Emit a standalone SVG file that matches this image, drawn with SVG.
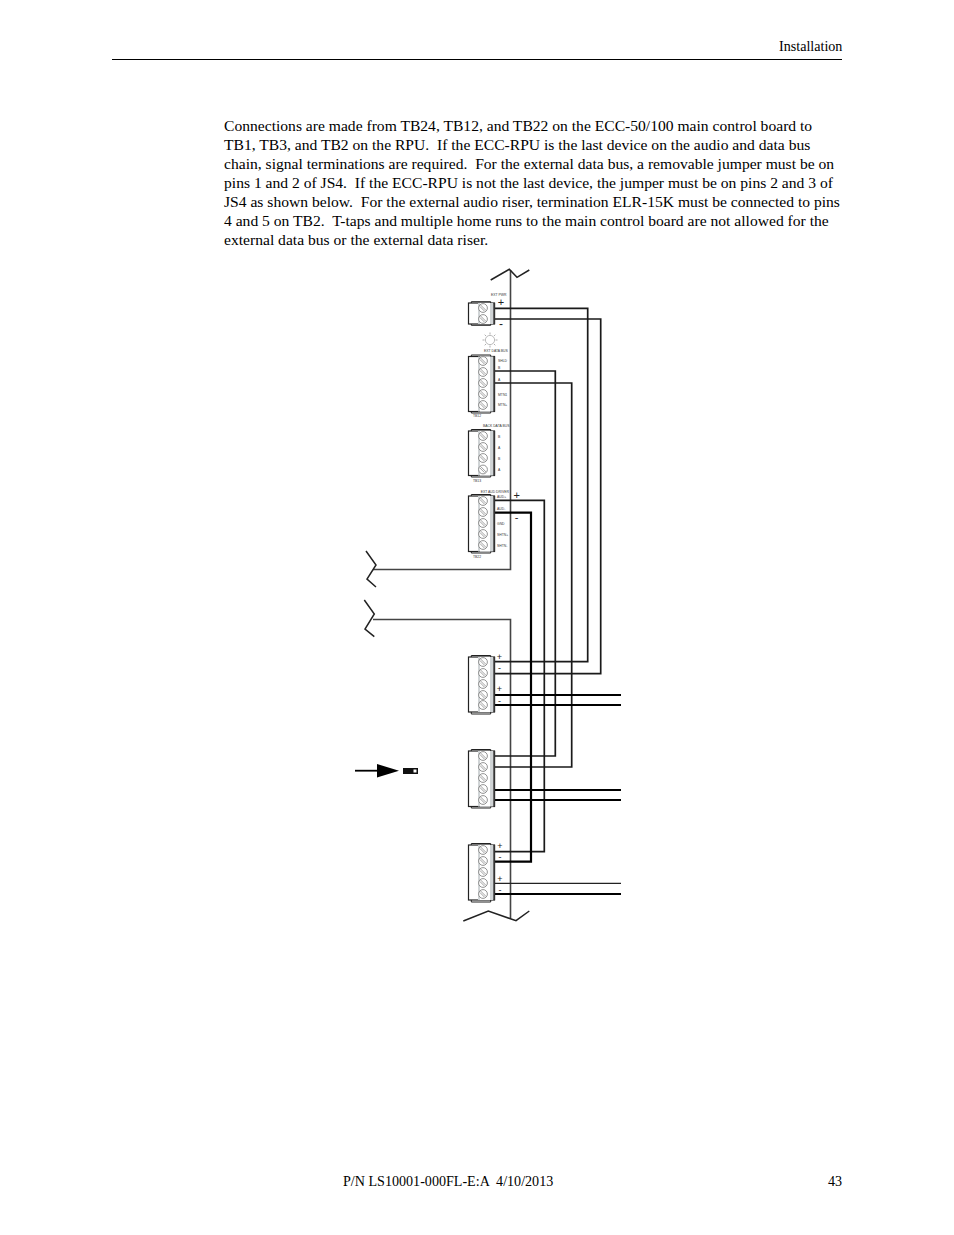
<svg xmlns="http://www.w3.org/2000/svg" width="954" height="1235" viewBox="0 0 954 1235">
<style>
text{font-family:"Liberation Serif","Times New Roman",serif;fill:#000;white-space:pre}
.body{font-size:15.6px}
.hf{font-size:14.1px}
.w{fill:none;stroke:#1a1a1a;stroke-width:1.7;stroke-linejoin:miter}
.g{fill:none;stroke:#444;stroke-width:1.6}
.t{fill:none;stroke:#000;stroke-width:2.2}
.n{fill:none;stroke:#222;stroke-width:1.2}
.z{fill:none;stroke:#222;stroke-width:1.5}
.tiny{font-family:"Liberation Sans",Arial,sans-serif;font-size:3.4px;fill:#333}
.sign{font-family:"Liberation Sans",Arial,sans-serif;font-size:9px;fill:#222;text-anchor:middle}
.sc{fill:#fff;stroke:#777;stroke-width:.8}
.sl{stroke:#888;stroke-width:.8}
</style>
<defs>
<g id="scr"><circle class="sc" r="4.4"/><path class="sl" d="M-2.6,-3.2L3.2,2.6M-3.2,-1.6L1.6,3.2" fill="none"/></g>
</defs>
<g id="header">
<text class="hf" x="779" y="51">Installation</text>
<path d="M112,59.5H842" stroke="#000" stroke-width="1"/>
</g>
<g id="paragraph">
<text class="body" x="224" y="131">Connections are made from TB24, TB12, and TB22 on the ECC-50/100 main control board to</text>
<text class="body" x="224" y="150">TB1, TB3, and TB2 on the RPU.  If the ECC-RPU is the last device on the audio and data bus</text>
<text class="body" x="224" y="169">chain, signal terminations are required.  For the external data bus, a removable jumper must be on</text>
<text class="body" x="224" y="188">pins 1 and 2 of JS4.  If the ECC-RPU is not the last device, the jumper must be on pins 2 and 3 of</text>
<text class="body" x="224" y="207">JS4 as shown below.  For the external audio riser, termination ELR-15K must be connected to pins</text>
<text class="body" x="224" y="226">4 and 5 on TB2.  T-taps and multiple home runs to the main control board are not allowed for the</text>
<text class="body" x="224" y="245">external data bus or the external data riser.</text>
</g>
<g id="connectors">
<path class="g" d="M510.5,270V569.5H373"/>
<path class="g" d="M373,619.5H510.5V918"/>
<path class="z" d="M490.7,280L509.3,269.3L517,277.3L529.3,270"/>
<path class="z" d="M366,551L376,565L367,579L376,587"/>
<path class="z" d="M364.3,600L374.3,614L365,629L374.3,636.7"/>
<path class="z" d="M463.3,921L488.3,911L516,920.7L529.3,911"/>
<path class="w" d="M495,308.3H587.7V661.7H495"/>
<path class="w" d="M495,319H600.7V673.7H495"/>
<path class="w" d="M495,371H555.3V756H495"/>
<path class="w" d="M495,383H571.7V767H495"/>
<path class="w" d="M495,500.3H544.3V851.7H495"/>
<path class="t" d="M495,512.7H531V861.7H495"/>
<path class="t" d="M495,695H621M495,705H621M495,790H621M495,800H621M495,894H621"/>
<path class="n" d="M495,883.3H621"/>
</g>
<g id="tb-pwr">
<path d="M471.3,301.7H490.7V325.3H471.3Z" fill="none" stroke="#222" stroke-width="1"/>
<rect x="468.5" y="303" width="26" height="21" fill="#fff" stroke="#222" stroke-width="1.2"/>
<rect x="478" y="303" width="15.5" height="21" fill="#d0d4d6"/><rect x="480" y="303" width="10" height="21" fill="#fff"/>
<rect x="493.3" y="303" width="1.8" height="21" fill="#333"/>
<use href="#scr" x="483" y="308"/><use href="#scr" x="483" y="319"/>
<text class="tiny" x="491" y="296">EXT PWR</text>
</g>
<g id="led"><circle cx="490" cy="340" r="4.6" fill="none" stroke="#aaa" stroke-width=".8"/><path d="M490,332.5v2M490,345.5v2M482.5,340h2M495.5,340h2M484.7,334.7l1.4,1.4M493.9,343.9l1.4,1.4M484.7,345.3l1.4,-1.4M493.9,336.1l1.4,-1.4" stroke="#999" stroke-width=".8"/></g>
<g id="tb-12">
<path d="M471.3,355H490.7V413H471.3Z" fill="none" stroke="#222" stroke-width="1"/>
<rect x="468.5" y="356.5" width="26" height="55" fill="#fff" stroke="#222" stroke-width="1.2"/>
<rect x="478" y="356.5" width="15.5" height="55" fill="#d0d4d6"/><rect x="480" y="356.5" width="10" height="55" fill="#fff"/>
<rect x="493.3" y="356.5" width="1.8" height="55" fill="#333"/>
<use href="#scr" x="483" y="361"/><use href="#scr" x="483" y="372"/><use href="#scr" x="483" y="383"/><use href="#scr" x="483" y="394"/><use href="#scr" x="483" y="405"/>
<text class="tiny" x="484" y="352">EXT DATA BUS</text>
<text class="tiny" x="498" y="362">SHLD</text><text class="tiny" x="498" y="369">B</text><text class="tiny" x="498" y="381">A</text><text class="tiny" x="498" y="396">MTN1</text><text class="tiny" x="498" y="406">MTN+</text>
<text class="tiny" x="473" y="417">TB12</text>
</g>
<g id="tb-13">
<path d="M471.3,429.5H490.7V477H471.3Z" fill="none" stroke="#222" stroke-width="1"/>
<rect x="468.5" y="431" width="26" height="44.5" fill="#fff" stroke="#222" stroke-width="1.2"/>
<rect x="478" y="431" width="15.5" height="44.5" fill="#d0d4d6"/><rect x="480" y="431" width="10" height="44.5" fill="#fff"/>
<rect x="493.3" y="431" width="1.8" height="44.5" fill="#333"/>
<use href="#scr" x="483" y="436"/><use href="#scr" x="483" y="447"/><use href="#scr" x="483" y="458"/><use href="#scr" x="483" y="469.5"/>
<text class="tiny" x="483" y="427">BACK DATA BUS</text>
<text class="tiny" x="498" y="438">B</text><text class="tiny" x="498" y="449">A</text><text class="tiny" x="498" y="460">B</text><text class="tiny" x="498" y="471">A</text>
<text class="tiny" x="473" y="482">TB13</text>
</g>
<g id="tb-22">
<path d="M471.3,494.5H490.7V553H471.3Z" fill="none" stroke="#222" stroke-width="1"/>
<rect x="468.5" y="496" width="26" height="55.5" fill="#fff" stroke="#222" stroke-width="1.2"/>
<rect x="478" y="496" width="15.5" height="55.5" fill="#d0d4d6"/><rect x="480" y="496" width="10" height="55.5" fill="#fff"/>
<rect x="493.3" y="496" width="1.8" height="55.5" fill="#333"/>
<use href="#scr" x="483" y="501"/><use href="#scr" x="483" y="512"/><use href="#scr" x="483" y="523"/><use href="#scr" x="483" y="534"/><use href="#scr" x="483" y="545"/>
<text class="tiny" x="480.7" y="493">EXT AUD DRIVER</text>
<text class="tiny" x="497" y="498">AUD+</text><text class="tiny" x="497" y="510">AUD-</text><text class="tiny" x="497" y="525">GND</text><text class="tiny" x="497" y="536">SHTN+</text><text class="tiny" x="497" y="547">SHTN-</text>
<text class="tiny" x="473" y="558">TB22</text>
</g>
<g id="tb-1">
<path d="M471.3,655.5H490.7V714H471.3Z" fill="none" stroke="#222" stroke-width="1"/>
<rect x="468.5" y="657" width="26" height="55" fill="#fff" stroke="#222" stroke-width="1.2"/>
<rect x="478" y="657" width="15.5" height="55" fill="#d0d4d6"/><rect x="480" y="657" width="10" height="55" fill="#fff"/>
<rect x="493.3" y="657" width="1.8" height="55" fill="#333"/>
<use href="#scr" x="483" y="662"/><use href="#scr" x="483" y="673"/><use href="#scr" x="483" y="684"/><use href="#scr" x="483" y="695"/><use href="#scr" x="483" y="705"/>
</g>
<g id="tb-3">
<path d="M471.3,749.5H490.7V808H471.3Z" fill="none" stroke="#222" stroke-width="1"/>
<rect x="468.5" y="751" width="26" height="55.5" fill="#fff" stroke="#222" stroke-width="1.2"/>
<rect x="478" y="751" width="15.5" height="55.5" fill="#d0d4d6"/><rect x="480" y="751" width="10" height="55.5" fill="#fff"/>
<rect x="493.3" y="751" width="1.8" height="55.5" fill="#333"/>
<use href="#scr" x="483" y="756"/><use href="#scr" x="483" y="767"/><use href="#scr" x="483" y="778"/><use href="#scr" x="483" y="789"/><use href="#scr" x="483" y="800"/>
</g>
<g id="tb-2">
<path d="M471.3,843.5H490.7V902H471.3Z" fill="none" stroke="#222" stroke-width="1"/>
<rect x="468.5" y="845" width="26" height="55" fill="#fff" stroke="#222" stroke-width="1.2"/>
<rect x="478" y="845" width="15.5" height="55" fill="#d0d4d6"/><rect x="480" y="845" width="10" height="55" fill="#fff"/>
<rect x="493.3" y="845" width="1.8" height="55" fill="#333"/>
<use href="#scr" x="483" y="850"/><use href="#scr" x="483" y="861"/><use href="#scr" x="483" y="872"/><use href="#scr" x="483" y="883"/><use href="#scr" x="483" y="894"/>
</g>
<g id="polarity">
<text class="sign" x="501" y="306" style="font-size:11px">+</text><text class="sign" x="501" y="328" style="font-size:12px">-</text>
<text class="sign" x="516.7" y="499" style="font-size:11px">+</text><text class="sign" x="516.7" y="521" style="font-size:11px">-</text>
<text class="sign" x="499.5" y="659.5">+</text><text class="sign" x="499.5" y="670.5">-</text>
<text class="sign" x="499.5" y="692">+</text><text class="sign" x="499.5" y="704">-</text>
<text class="sign" x="500" y="848.5">+</text><text class="sign" x="500" y="859.5">-</text>
<text class="sign" x="500" y="882">+</text><text class="sign" x="500" y="893">-</text>
</g>
<g id="jumper">
<path d="M355,770.7H378" stroke="#000" stroke-width="1.8"/>
<path d="M377,764L399,770.7L377,777.5Z" fill="#000"/>
<rect x="403" y="768" width="15" height="6" fill="#111"/>
<rect x="413.5" y="769.5" width="3" height="3" fill="#fff"/>
</g>
<g id="footer">
<text class="hf" x="343" y="1186">P/N LS10001-000FL-E:A  4/10/2013</text>
<text class="hf" x="828" y="1186">43</text>
</g>
</svg>
